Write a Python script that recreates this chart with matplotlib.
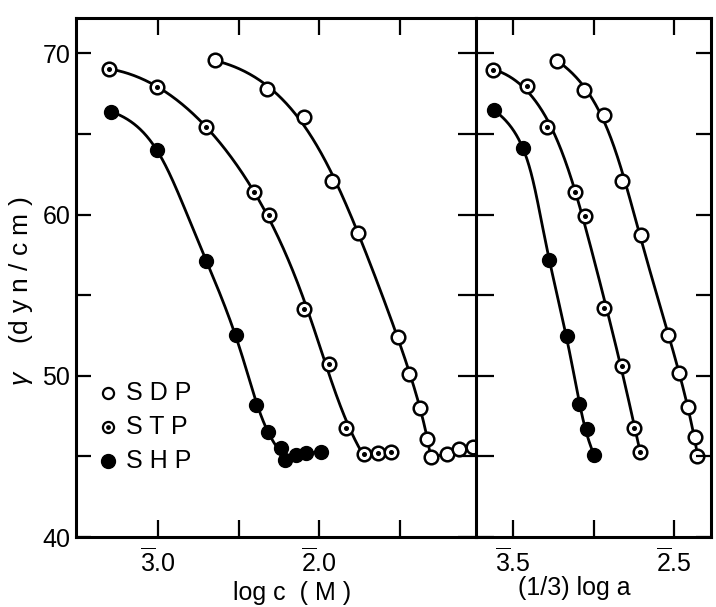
import numpy as np
import matplotlib
matplotlib.use('Agg')
import matplotlib.pyplot as plt

plt.rcParams['font.family'] = ['Liberation Sans', 'DejaVu Sans']
plt.rcParams['mathtext.fontset'] = 'custom'
plt.rcParams['mathtext.rm'] = 'Liberation Sans'
plt.rcParams['mathtext.it'] = 'Liberation Sans:italic'

# left panel: surface tension vs log c (M)
sdp_logc = [-2.644, -2.323, -2.096, -1.918, -1.756, -1.508, -1.439, -1.375, -1.329, -1.306, -1.206, -1.131, -1.043]
sdp_gam_c = [69.58, 67.77, 66.04, 62.09, 58.88, 52.43, 50.11, 47.98, 46.10, 44.97, 45.14, 45.43, 45.60]
stp_logc = [-3.304, -3.004, -2.704, -2.405, -2.314, -2.094, -1.936, -1.830, -1.723, -1.636, -1.552]
stp_gam_c = [69.04, 67.94, 65.45, 61.38, 60.01, 54.16, 50.75, 46.78, 45.17, 45.21, 45.29]
shp_logc = [-3.289, -3.009, -2.702, -2.514, -2.393, -2.319, -2.239, -2.209, -2.146, -2.081, -1.991]
shp_gam_c = [66.38, 64.04, 57.13, 52.51, 48.22, 46.52, 45.52, 44.80, 45.06, 45.21, 45.28]

# right panel: surface tension vs (1/3) log a
sdp_loga = [-2.226, -2.058, -1.936, -1.821, -1.703, -1.536, -1.469, -1.416, -1.370, -1.356]
sdp_gam_a = [69.56, 67.75, 66.16, 62.09, 58.76, 52.51, 50.19, 48.07, 46.23, 45.05]
stp_loga = [-2.624, -2.417, -2.289, -2.114, -2.054, -1.935, -1.822, -1.748, -1.709]
stp_gam_a = [68.96, 67.98, 65.46, 61.38, 59.91, 54.19, 50.64, 46.78, 45.26]
shp_loga = [-2.619, -2.441, -2.276, -2.168, -2.094, -2.044, -1.998]
shp_gam_a = [66.47, 64.15, 57.16, 52.47, 48.25, 46.70, 45.07]

yticks = [40, 45, 50, 55, 60, 65, 70]
ylabels = ['40', '', '50', '', '60', '', '70']
left_xticks = [-3.0, -2.5, -2.0, -1.5]
left_xlabels = [r'$\overline{3}$.0', '', r'$\overline{2}$.0', '']
right_xticks = [-2.5, -2.0, -1.5]
right_xlabels = [r'$\overline{3}$.5', '', r'$\overline{2}$.5']


def trend(x, y):
    # parametric polynomial through the falling part (screen-like units)
    px = x * 160.0
    py = y * 16.0
    t = np.concatenate([[0], np.cumsum(np.hypot(np.diff(px), np.diff(py)))])
    t = t / t[-1]
    deg = min(5, len(t) - 2)
    cx = np.polyfit(t, px, deg)
    cy = np.polyfit(t, py, deg)
    tt = np.linspace(0, 1, 400)
    return np.polyval(cx, tt) / 160.0, np.polyval(cy, tt) / 16.0


def draw_series(ax, x, y, kind):
    x = np.asarray(x)
    y = np.asarray(y)
    k = int(np.argmin(y))
    sx, sy = trend(x[:k + 1], y[:k + 1])
    ax.plot(sx, sy, color='black', lw=2.0, zorder=2, solid_capstyle='round')
    if k < len(x) - 1:
        ax.plot(x[k:], y[k:], color='black', lw=2.0, zorder=2)
    if kind == 'SHP':
        ax.plot(x, y, 'o', ms=10, mfc='black', mec='black', zorder=3, clip_on=False)
    else:
        ax.plot(x, y, 'o', ms=9.8, mfc='white', mec='black', mew=1.8, zorder=3, clip_on=False)
        if kind == 'STP':
            ax.plot(x, y, 'o', ms=2.6, mfc='black', mec='black', zorder=4, clip_on=False)


fig = plt.figure(figsize=(7.16, 6.07), dpi=100)
ax1 = fig.add_axes([0.106, 0.1153, 0.559, 0.855])
ax2 = fig.add_axes([0.665, 0.1153, 0.328, 0.855])

draw_series(ax1, sdp_logc, sdp_gam_c, 'SDP')
draw_series(ax1, stp_logc, stp_gam_c, 'STP')
draw_series(ax1, shp_logc, shp_gam_c, 'SHP')
draw_series(ax2, sdp_loga, sdp_gam_a, 'SDP')
draw_series(ax2, stp_loga, stp_gam_a, 'STP')
draw_series(ax2, shp_loga, shp_gam_a, 'SHP')

for ax in (ax1, ax2):
    ax.set_ylim(40, 72.2)
    ax.set_yticks(yticks)
    for s in ax.spines.values():
        s.set_linewidth(2.2)
ax1.set_xlim(-3.51, -1.025)
ax2.set_xlim(-2.731, -1.27)
ax1.spines['right'].set_visible(False)

ax1.set_xticks(left_xticks)
ax1.set_xticklabels(left_xlabels)
ax2.set_xticks(right_xticks)
ax2.set_xticklabels(right_xlabels)
ax1.set_yticklabels(ylabels)
ax2.set_yticklabels([])

ax1.tick_params(axis='x', direction='in', top=True, bottom=True, length=12, width=1.6,
                labelsize=18, pad=8)
ax2.tick_params(axis='x', direction='in', top=True, bottom=True, length=12, width=1.6,
                labelsize=18, pad=8)
ax1.tick_params(axis='y', direction='in', left=True, right=False, length=11, width=1.6,
                labelsize=18, pad=4)
ax2.tick_params(axis='y', direction='inout', left=True, right=False, length=26, width=1.6)

ax3 = ax2.twinx()
ax3.set_ylim(40, 72.2)
ax3.set_yticks(yticks)
ax3.set_yticklabels([])
ax3.tick_params(axis='y', direction='in', length=11, width=1.6)
for s in ax3.spines.values():
    s.set_visible(False)

ax1.set_xlabel('log c  ( M )', fontsize=18)
ax1.xaxis.set_label_coords(0.54, -0.085)
ax2.set_xlabel('(1/3) log a', fontsize=18)
ax2.xaxis.set_label_coords(0.42, -0.075)

fig.text(0.030, 0.52, r'$\gamma$    (d y n / c m )', rotation=90, fontsize=19,
         ha='center', va='center')

# legend drawn by hand
leg_y = [0.277, 0.212, 0.146]
leg_names = ['SDP', 'STP', 'SHP']
for yy, name in zip(leg_y, leg_names):
    if name == 'SHP':
        ax1.plot([0.08], [yy], 'o', ms=10, mfc='black', mec='black', transform=ax1.transAxes)
    else:
        ax1.plot([0.08], [yy], 'o', ms=8, mfc='white', mec='black', mew=1.6,
                 transform=ax1.transAxes)
        if name == 'STP':
            ax1.plot([0.08], [yy], 'o', ms=2.4, mfc='black', mec='black',
                     transform=ax1.transAxes)
    ax1.text(0.125, yy, ' '.join(name), transform=ax1.transAxes, fontsize=18,
             va='center', ha='left')

fig.savefig('out.png', dpi=100)
